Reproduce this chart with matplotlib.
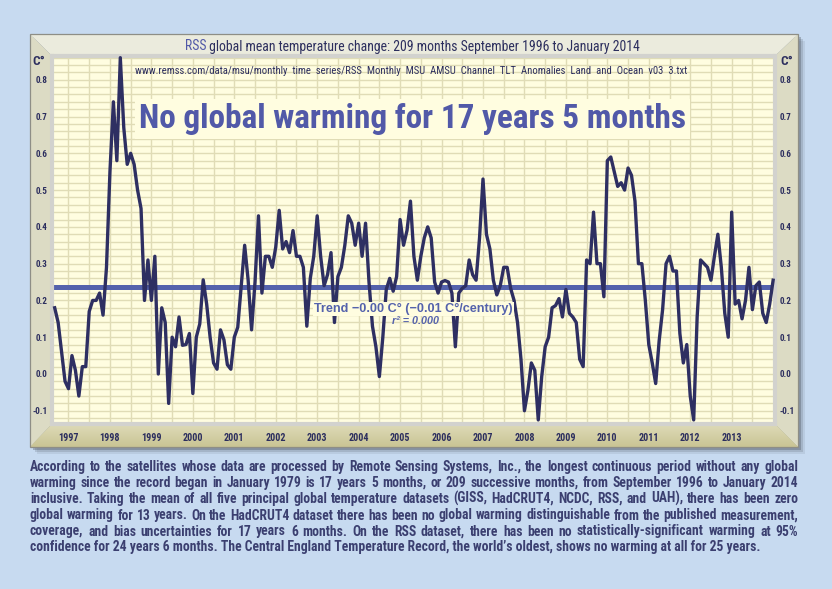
import numpy as np
import matplotlib
matplotlib.use('Agg')
import matplotlib.pyplot as plt
from matplotlib import font_manager
from matplotlib.patches import Polygon, Rectangle

# RSS TLT monthly anomalies, September 1996 .. January 2014
anomaly = [
    0.18, 0.14, 0.06, -0.02,
    -0.04, 0.05, 0.01, -0.06, 0.02, 0.02, 0.17, 0.20, 0.20, 0.22, 0.16, 0.29,
    0.55, 0.74, 0.58, 0.86, 0.67, 0.57, 0.60, 0.57, 0.50, 0.45, 0.20, 0.31,
    0.20, 0.32, 0.00, 0.18, 0.14, -0.08, 0.10, 0.074, 0.155, 0.078, 0.08, 0.11,
    -0.053, 0.10, 0.136, 0.256, 0.19, 0.10, 0.03, 0.013, 0.12, 0.093, 0.025, 0.013,
    0.10, 0.127, 0.237, 0.35, 0.256, 0.12, 0.25, 0.43, 0.22, 0.32, 0.32, 0.29,
    0.345, 0.445, 0.34, 0.36, 0.33, 0.39, 0.32, 0.32, 0.29, 0.13, 0.26, 0.32,
    0.43, 0.32, 0.24, 0.27, 0.33, 0.14, 0.265, 0.29, 0.35, 0.43, 0.41, 0.35,
    0.41, 0.32, 0.41, 0.25, 0.13, 0.074, -0.007, 0.10, 0.23, 0.26, 0.225, 0.265,
    0.42, 0.35, 0.39, 0.47, 0.32, 0.255, 0.32, 0.37, 0.40, 0.37, 0.25, 0.22,
    0.25, 0.254, 0.25, 0.22, 0.074, 0.22, 0.233, 0.24, 0.31, 0.27, 0.255, 0.37,
    0.53, 0.38, 0.34, 0.255, 0.215, 0.24, 0.29, 0.29, 0.233, 0.20, 0.14, 0.04,
    -0.10, -0.045, 0.03, 0.01, -0.125, -0.007, 0.074, 0.10, 0.18, 0.186, 0.205, 0.155,
    0.23, 0.165, 0.155, 0.14, 0.04, 0.02, 0.31, 0.30, 0.44, 0.30, 0.30, 0.21,
    0.58, 0.59, 0.55, 0.51, 0.52, 0.50, 0.56, 0.54, 0.47, 0.30, 0.30, 0.20,
    0.08, 0.03, -0.026, 0.09, 0.175, 0.30, 0.32, 0.28, 0.28, 0.11, 0.03, 0.08,
    -0.06, -0.125, 0.155, 0.31, 0.30, 0.29, 0.255, 0.32, 0.38, 0.29, 0.165, 0.10,
    0.44, 0.19, 0.20, 0.15, 0.20, 0.29, 0.175, 0.24, 0.25, 0.165, 0.14, 0.19,
    0.255,
]
start_year = 1996 + 8 / 12          # September 1996
trend_level = 0.237

years = list(range(1997, 2014))
year_labels = [str(y) for y in years]
yticks = [0.8, 0.7, 0.6, 0.5, 0.4, 0.3, 0.2, 0.1, 0.0, -0.1]
ytick_labels = ['0.8', '0.7', '0.6', '0.5', '0.4', '0.3', '0.2', '0.1', '0.0', '-0.1']

title_a = 'RSS'
title_b = ' global mean temperature change: 209 months September 1996 to January 2014'
source = ('www.remss.com/data/msu/monthly  time  series/RSS  Monthly  MSU  AMSU  '
          'Channel  TLT  Anomalies  Land  and  Ocean  v03  3.txt')
headline = 'No global warming for 17 years 5 months'
trend_text = 'Trend \u22120.00 C\u00b0 (\u22120.01 C\u00b0/century)'
r2_text = 'r\u00b2 = 0.000'
body = [
    'According to the satellites whose data are processed by Remote Sensing Systems, Inc., the longest continuous period without any global',
    'warming since the record began in January 1979 is 17 years 5 months, or 209 successive months, from September 1996 to January 2014',
    'inclusive. Taking the mean of all five principal global temperature datasets (GISS, HadCRUT4, NCDC, RSS, and UAH), there has been zero',
    'global warming for 13 years. On the HadCRUT4 dataset there has been no global warming distinguishable from the published measurement,',
    'coverage, and bias uncertainties for 17 years 6 months. On the RSS dataset, there has been no statistically-significant warming at 95%',
    'confidence for 24 years 6 months. The Central England Temperature Record, the world\u2019s oldest, shows no warming at all for 25 years.',
]

# colours
BG = '#C7DAF0'
PLOT_BG = '#FFFDE0'
GRID = '#E0DCB6'
TOP_BAND = '#EBEBDD'
SIDE_BAND = '#DCDBC4'
TXT = '#2C2E5E'
LINE = '#2E2F62'
TREND = '#5462AC'
HEAD = '#5159A8'
BODY = '#3B3F70'

# look for a narrow / condensed face, else plain Liberation Sans
family, stretch, narrow = 'Liberation Sans', 'normal', False
wanted = ['Liberation Sans Narrow', 'Arial Narrow', 'Roboto Condensed',
          'Open Sans Condensed', 'DejaVu Sans Condensed', 'Noto Sans Condensed']
cands = [f for f in font_manager.fontManager.ttflist
         if 'Narrow' in f.name or 'Condensed' in f.name
         or str(f.stretch) in ('condensed', 'semi-condensed', 'extra-condensed')]
cands = [f for f in cands if 'Mono' not in f.name and 'Serif' not in f.name
         and 'CJK' not in f.name]
if cands:
    cands.sort(key=lambda f: wanted.index(f.name) if f.name in wanted else 99)
    family, stretch, narrow = cands[0].name, str(cands[0].stretch), True
plt.rcParams['font.family'] = family
plt.rcParams['font.stretch'] = stretch
k = 1.0 if narrow else 0.92

fig = plt.figure(figsize=(8.32, 5.89), dpi=100)
fig.patch.set_facecolor(BG)

# background layer in pixel coordinates
bg = fig.add_axes([0, 0, 1, 1], zorder=0)
bg.set_xlim(0, 832)
bg.set_ylim(589, 0)
bg.axis('off')
px = bg.transData

L, T, R, B = 30, 34, 798, 447
l, t, r, b = 52, 56, 775, 424
for off, a in [(7, 0.10), (5, 0.18), (3, 0.32)]:
    bg.add_patch(Rectangle((L + off, T + off), R - L, B - T, color='#454C56', alpha=a, lw=0))
bg.add_patch(Polygon([(L, T), (R, T), (r, t), (l, t)], color=TOP_BAND, lw=0))
bg.add_patch(Polygon([(L, T), (l, t), (l, b), (L, B)], color=SIDE_BAND, lw=0))
bg.add_patch(Polygon([(R, T), (R, B), (r, b), (r, t)], color=SIDE_BAND, lw=0))
bottom = Polygon([(L, B), (l, b), (r, b), (R, B)], color='#D3CFA3', lw=0)
bg.add_patch(bottom)
shade = np.linspace(0, 1, 50).reshape(-1, 1)
grad = bg.imshow(shade, extent=[L, R, B, b], aspect='auto', zorder=1,
                 cmap=matplotlib.colors.LinearSegmentedColormap.from_list(
                     'band', ['#DEDBB8', '#C9C494']))
grad.set_clip_path(bottom)
bg.set_xlim(0, 832)
bg.set_ylim(589, 0)
bg.add_patch(Rectangle((L, T), R - L, B - T, fill=False, ec='#8E8E86', lw=0.9, zorder=2))

# chart
ax = fig.add_axes([l / 832, 1 - b / 589, (r - l) / 832, (b - t) / 589], zorder=1)
ax.set_facecolor(PLOT_BG)
months = start_year + np.arange(len(anomaly)) / 12
ax.plot(months, anomaly, color=LINE, lw=2.4, zorder=3, solid_joinstyle='round')
ax.axhline(trend_level, color=TREND, lw=3.6, zorder=2)

ax.set_xlim(1996.602, 2014.045)
ax.set_ylim(-0.136, 0.8646)
ax.set_xticks(years)
ax.set_xticklabels(year_labels, fontsize=7.2 * k, fontweight='bold', color=TXT)
ax.set_xticks(np.arange(1997.5, 2014, 1), minor=True)
ax.set_yticks(yticks)
ax.set_yticklabels(ytick_labels, fontsize=6.6 * k, fontweight='bold', color=TXT)
ax.set_yticks(np.arange(-0.12, 0.87, 0.02), minor=True)
ax.grid(True, which='both', color=GRID, lw=1, zorder=0)
ax.set_axisbelow(True)
ax.tick_params(which='both', length=0)
ax.tick_params(axis='x', pad=6.5)
ax.tick_params(axis='y', labelleft=True, labelright=True, pad=3.5)
for s in ax.spines.values():
    s.set_color('#D2D2CE')
    s.set_linewidth(3)

rend = fig.canvas.get_renderer()


def width(txt):
    return txt.get_window_extent(rend).width


def fit(txt, w):
    txt.set_fontsize(txt.get_fontsize() * w / width(txt))


# title in the top band
ta = fig.text(185, 50.5, title_a, transform=px, color=HEAD, fontsize=9)
tb = fig.text(185, 50.5, title_b, transform=px, color=TXT, fontsize=9)
s = (643 - 185) / (width(ta) + width(tb))
ta.set_fontsize(9 * s)
tb.set_fontsize(9 * s)
tb.set_x(185 + width(ta))

fig.text(32, 65, 'C\u00b0', transform=px, color=TXT, fontsize=9.5 * k, fontweight='bold')
fig.text(780, 65, 'C\u00b0', transform=px, color=TXT, fontsize=9.5 * k, fontweight='bold')

src = fig.text(135, 74, source, transform=px, color=TXT, fontsize=7)
fit(src, 557)

hd = fig.text(139, 128, headline, transform=px, color=HEAD, fontsize=24, fontweight='bold',
              bbox=dict(facecolor=PLOT_BG, edgecolor='none', pad=3))
fit(hd, 550)

# trend annotation, set in the wider face as in the original
tr = fig.text(314, 312, trend_text, transform=px, color=TREND, fontsize=10, fontweight='bold',
              family='Liberation Sans', stretch='normal',
              bbox=dict(facecolor=PLOT_BG, edgecolor='none', pad=0.8))
fit(tr, 199)
rr = fig.text(392, 324, r2_text, transform=px, color=TREND, fontsize=7, fontweight='bold',
              style='italic', family='Liberation Sans', stretch='normal')
fit(rr, 47)

# justified paragraph below the frame
line_y = [471, 487, 503, 519.5, 535.5, 551]
last = fig.text(30, line_y[-1], body[-1], transform=px, color=BODY, fontsize=10,
                fontweight='bold')
fit(last, 730)
fs = last.get_fontsize()
for line, y in zip(body[:-1], line_y[:-1]):
    words = line.split(' ')
    arts = [fig.text(0, y, w_, transform=px, color=BODY, fontsize=fs, fontweight='bold')
            for w_ in words]
    ws = [width(a) for a in arts]
    gap = (798 - 30 - sum(ws)) / (len(words) - 1)
    x = 30
    for a, w_ in zip(arts, ws):
        a.set_x(x)
        x += w_ + gap

fig.savefig('out.png', dpi=100, facecolor=BG)
